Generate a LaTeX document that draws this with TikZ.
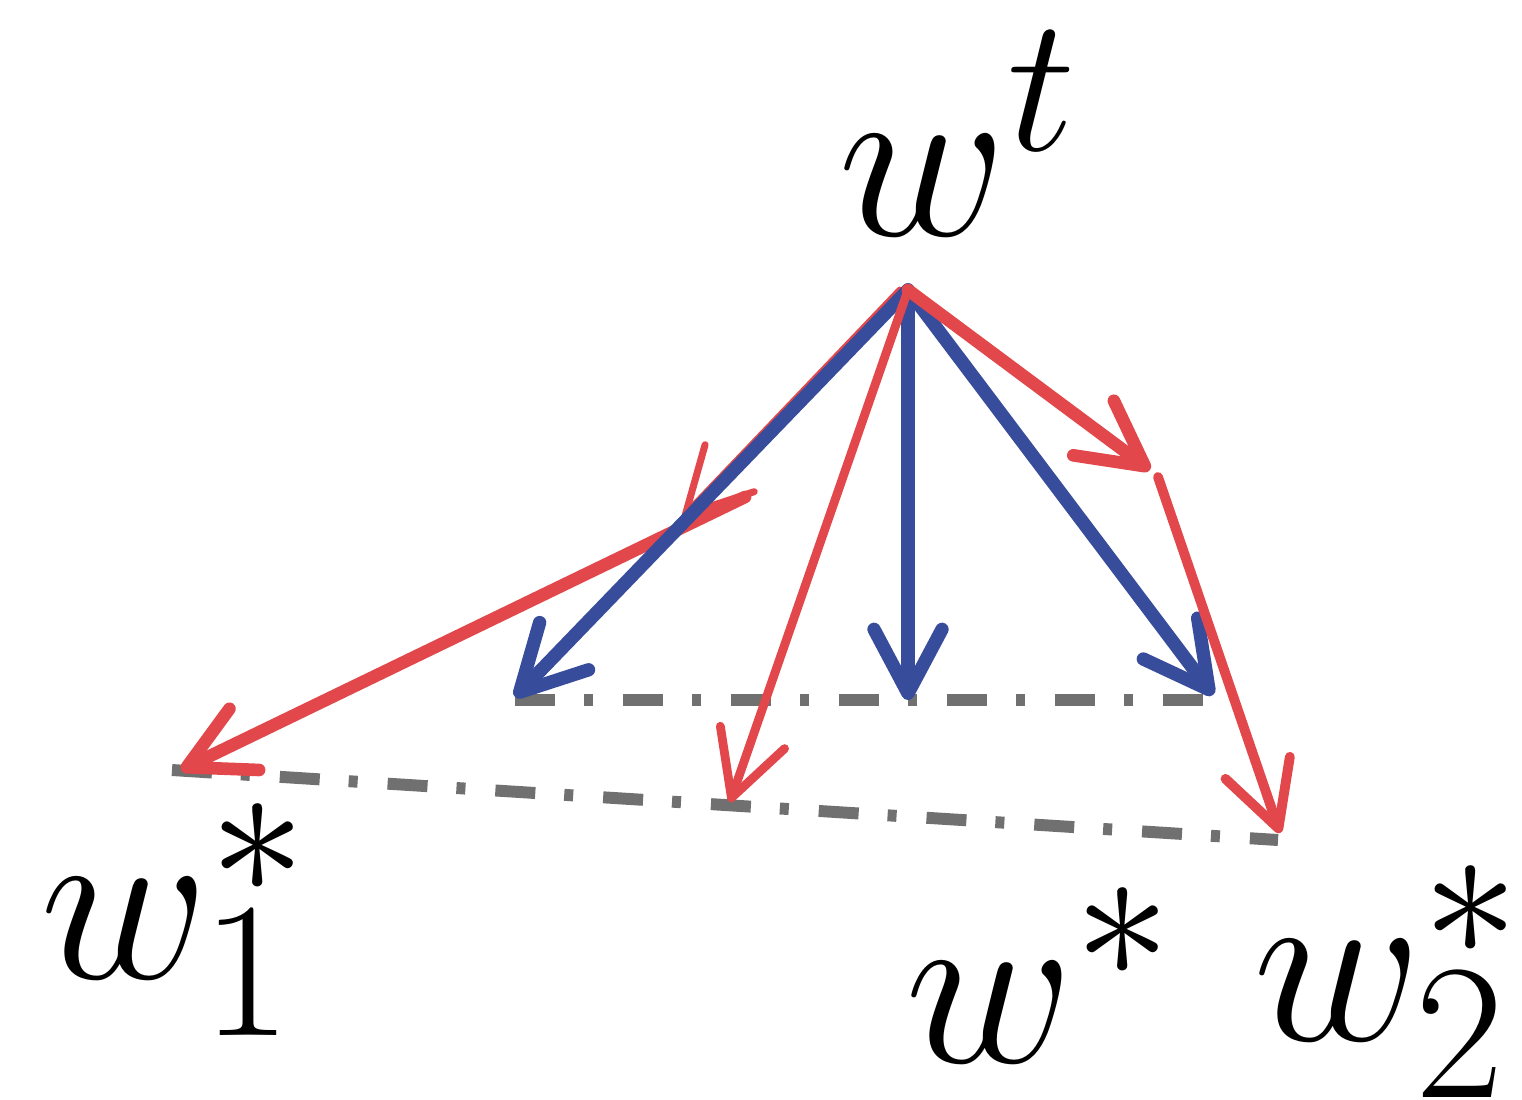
\documentclass[tikz,border=0pt]{standalone}
\usepackage{graphicx}
\usetikzlibrary{arrows.meta}

\definecolor{vecblue}{RGB}{56,76,156}
\definecolor{vecred}{RGB}{226,72,75}
\definecolor{projgray}{RGB}{112,112,112}

\newcommand{\biglbl}[1]{\scalebox{2.65}{\Huge$#1$}}

\begin{document}
\begin{tikzpicture}[
    vec/.style={line width=3.8pt, line cap=round,
                -{Straight Barb[length=6.4mm, width=6.8mm, round]}},
    bvec/.style={vec, draw=vecblue},
    rvec/.style={vec, draw=vecred},
    proj/.style={draw=projgray, line width=3.4pt,
                 dash pattern=on 4mm off 2.9mm on 0.9mm off 3mm},
    lbl/.style={inner sep=0pt, anchor=base west}
  ]
  \useasboundingbox (0,0) rectangle (15.22,-10.99);

  % Labels
  \node[lbl] (wt) at (8.38,-2.35) {\biglbl{w^t}};
  \node[lbl] (w1) at (0.40,-9.78) {\biglbl{w_1^*}};
  \node[lbl] (ws) at (9.05,-10.62) {\biglbl{w^*}};
  \node[lbl] (w2) at (12.53,-10.40) {\biglbl{w_2^*}};

  % Points
  \coordinate (p0) at (9.08,-2.90);
  \coordinate (bl) at (5.15,-6.97);
  \coordinate (bm) at (9.08,-7.00);
  \coordinate (br) at (12.13,-6.95);
  \coordinate (ul) at (5.15,-7.00);
  \coordinate (ur) at (12.04,-7.00);
  \coordinate (ll) at (1.72,-7.70);
  \coordinate (lr) at (12.78,-8.40);
  \coordinate (m1) at (6.83,-5.17);
  \coordinate (s1) at (7.45,-4.97);
  \coordinate (e1) at (1.81,-7.70);
  \coordinate (e0) at (7.30,-8.02);
  \coordinate (m2) at (11.50,-4.70);
  \coordinate (s2) at (11.58,-4.77);
  \coordinate (e2) at (12.80,-8.33);

  % Dash-dot lines
  \draw[proj] (ul) -- (ur);
  \draw[proj] (ll) -- (lr);

  % Red path to w1*
  \draw[rvec, line width=2pt] ([xshift=-0.8mm]p0) -- (m1);
  \draw[rvec, line width=3.6pt] (s1) -- (e1);

  % Blue vectors
  \draw[bvec] (p0) -- (bl);
  \draw[bvec] (p0) -- (bm);
  \draw[bvec] (p0) -- (br);

  % Red vectors to w* and w2*
  \draw[rvec, line width=2.5pt] (p0) -- (e0);
  \draw[rvec, line width=3.6pt] (p0) -- (m2);
  \draw[rvec, line width=2.8pt] (s2) -- (e2);
\end{tikzpicture}
\end{document}
